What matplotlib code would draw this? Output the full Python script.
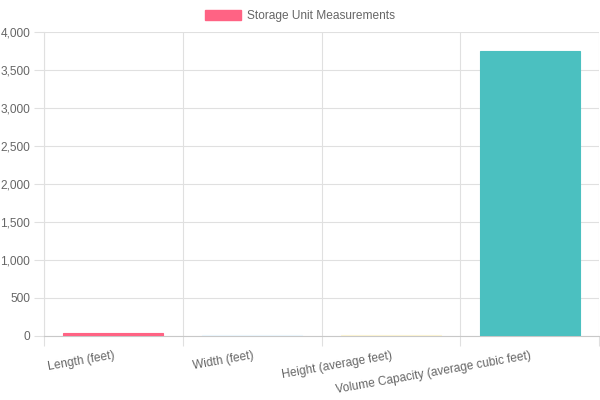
import matplotlib
matplotlib.use("Agg")
import matplotlib.pyplot as plt
from matplotlib.patches import Patch

categories = ["Length (feet)", "Width (feet)", "Height (average feet)",
              "Volume Capacity (average cubic feet)"]
values = [40, 10, 10, 3750]
bar_colors = ["#FF6384", "#EAF5FC", "#FFF6DE", "#4BC0C0"]
edge_colors = ["#FF6384", "#EAF5FC", "#FBF3D2", "#4BC0C0"]
legend_label = "Storage Unit Measurements"
yticks = [0, 500, 1000, 1500, 2000, 2500, 3000, 3500, 4000]

plt.rcParams['font.family'] = ['Liberation Sans', 'DejaVu Sans']

fig = plt.figure(figsize=(6, 4), dpi=100)
ax = fig.add_axes([44/600, 64/400, 555/600, 304/400])

x = list(range(len(categories)))
ax.bar(x, values, width=0.72, color=bar_colors, edgecolor=edge_colors, linewidth=0.8, zorder=3)

ax.set_xlim(-0.5, len(categories) - 0.5)
ax.set_ylim(0, 4000)
ax.set_yticks(yticks)
ax.set_yticklabels([f"{v:,}" for v in yticks], fontsize=8.6, color="#666666")
ax.set_xticks(x)
ax.set_xticklabels(categories, fontsize=8.6, color="#666666", rotation=10,
                   ha="right", va="top", rotation_mode="anchor")

# gridlines at category boundaries
ax.set_xticks([i - 0.5 for i in range(len(categories) + 1)], minor=True)
ax.grid(True, which="minor", axis="x", color="#E0E0E0", linewidth=0.8, zorder=0)
ax.grid(True, which="major", axis="y", color="#E0E0E0", linewidth=0.8, zorder=0)
ax.tick_params(axis="x", which="major", length=0, pad=10)
ax.tick_params(axis="x", which="minor", length=7, color="#E0E0E0", width=0.8)
ax.tick_params(axis="y", length=7, color="#E0E0E0", width=0.8, pad=3)

for side in ["top", "right"]:
    ax.spines[side].set_visible(False)
ax.spines["left"].set_color("#E0E0E0")
ax.spines["bottom"].set_color("#C8C8C8")
ax.spines["left"].set_linewidth(0.8)
ax.spines["bottom"].set_linewidth(0.8)

handle = Patch(facecolor="#FF6384", edgecolor="#FF6384")
fig.legend([handle], [legend_label], loc="center", bbox_to_anchor=(0.5, 1 - 16/400),
           frameon=False, fontsize=8.6, labelcolor="#666666",
           handlelength=3.0, handleheight=0.9, handletextpad=0.5)

fig.savefig("out.png", dpi=100, facecolor="white")
